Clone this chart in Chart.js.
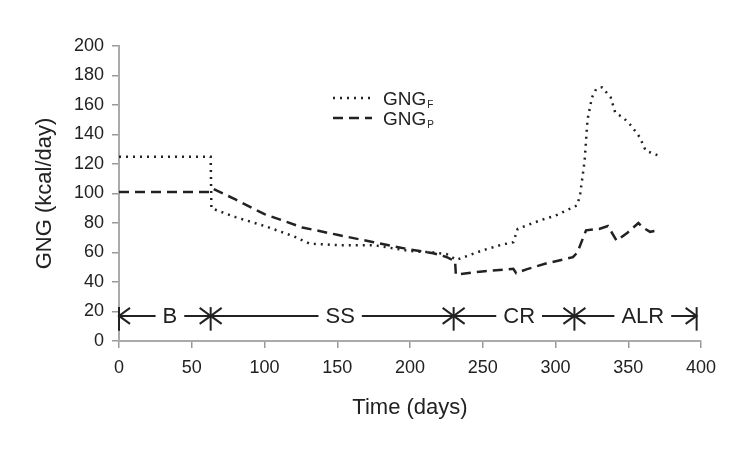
<!DOCTYPE html>
<html>
<head>
<meta charset="utf-8">
<script src="https://cdn.jsdelivr.net/npm/chart.js@4/dist/chart.umd.min.js"></script>
<style>
html,body{margin:0;padding:0;background:#fff;}
#wrap{width:750px;height:461px;position:relative;}
</style>
</head>
<body>
<div id="wrap"><canvas id="c" width="750" height="461"></canvas></div>
<script>
// ---- data ----
const gngF_days = [0,63,63.5,80,100,120,131,150,175,200,216,225,232,250,262,271,274,290,300,315,317,320,322,325,328,332,338,341,347,352,358,362,370];
const gngF_vals = [125,125,90,84,78,71,66,65,65,61,60,59,55,61.5,65,67,76,82,85,92,100,122,150,165,171,172,165,155,151,146,138,129,126];
const gngP_days = [0,63,65,80,100,126,150,175,200,216,225,231,231.5,248,271,273,280,294,312,315,321,330,336,342,349,357,360,365,370];
const gngP_vals = [101,101,103,96,86,77,72,67,62,59.5,57,54,45,47,49,46,48.6,52.7,56.8,60,75,76,78,68,73,80,77,74,75];
const phaseBounds = [0,63,230,313,397];
const phaseNames = ['B','SS','CR','ALR'];
const phaseLabelDays = [35,152,275,360];
const phaseArrowLevel = 17;
const phaseBarRange = [7,23];
const xTicks = [0,50,100,150,200,250,300,350,400];
const yTicks = [0,20,40,60,80,100,120,140,160,180,200];

const FONT = "'Liberation Sans', Arial, sans-serif";
const INK = '#222';

function pts(d, v){ return d.map((x,i)=>({x:x,y:v[i]})); }

const overlay = {
  id:'overlay',
  afterDatasetsDraw(chart){
    const ctx = chart.ctx, xs = chart.scales.x, ys = chart.scales.y;
    ctx.save();
    // phases
    ctx.strokeStyle = INK; ctx.fillStyle = INK; ctx.lineWidth = 2; ctx.lineCap='butt';
    ctx.font = '22px ' + FONT; ctx.textAlign='center'; ctx.textBaseline='middle';
    const ay = ys.getPixelForValue(phaseArrowLevel);
    const b0 = ys.getPixelForValue(phaseBarRange[0]), b1 = ys.getPixelForValue(phaseBarRange[1]);
    phaseBounds.forEach(d=>{
      const px = xs.getPixelForValue(d);
      ctx.beginPath(); ctx.moveTo(px,b0); ctx.lineTo(px,b1); ctx.stroke();
    });
    function head(x, dir){
      ctx.beginPath();
      ctx.moveTo(x - dir*11, ay - 8); ctx.lineTo(x, ay); ctx.lineTo(x - dir*11, ay + 8);
      ctx.stroke();
    }
    for(let k=0;k<phaseNames.length;k++){
      const xa = xs.getPixelForValue(phaseBounds[k]);
      const xb = xs.getPixelForValue(phaseBounds[k+1]);
      const lx = xs.getPixelForValue(phaseLabelDays[k]);
      const w = ctx.measureText(phaseNames[k]).width;
      const gap = 7;
      ctx.beginPath();
      ctx.moveTo(xa, ay); ctx.lineTo(lx - w/2 - gap, ay);
      ctx.moveTo(lx + w/2 + gap, ay); ctx.lineTo(xb, ay);
      ctx.stroke();
      head(xa, -1); head(xb, 1);
      ctx.fillText(phaseNames[k], lx, ay + 1);
    }
    // legend
    const ds = chart.data.datasets;
    const rows = [{y:98, ds:ds[0], sub:'F'}, {y:118, ds:ds[1], sub:'P'}];
    rows.forEach(r=>{
      ctx.save();
      ctx.strokeStyle = r.ds.borderColor; ctx.lineWidth = r.ds.borderWidth;
      ctx.setLineDash(r.ds.borderDash);
      ctx.beginPath(); ctx.moveTo(333, r.y); ctx.lineTo(372, r.y); ctx.stroke();
      ctx.restore();
      ctx.fillStyle = INK; ctx.textAlign='left'; ctx.textBaseline='alphabetic';
      ctx.font = '19px ' + FONT;
      ctx.fillText('GNG', 383, r.y + 7);
      const gw = ctx.measureText('GNG').width;
      ctx.font = '10px ' + FONT;
      ctx.fillText(r.sub, 383 + gw + 1, r.y + 10);
    });
    ctx.restore();
  }
};

new Chart(document.getElementById('c'), {
  type:'line',
  data:{
    datasets:[
      {label:'GNG_F', data:pts(gngF_days,gngF_vals), borderColor:INK, borderWidth:2.5, borderDash:[2,5], pointRadius:0, fill:false, tension:0},
      {label:'GNG_P', data:pts(gngP_days,gngP_vals), borderColor:INK, borderWidth:2.5, borderDash:[10,6], pointRadius:0, fill:false, tension:0}
    ]
  },
  options:{
    responsive:false, animation:false, devicePixelRatio:1,
    layout:{padding:{left:0,top:46,right:49,bottom:0}},
    plugins:{legend:{display:false}, tooltip:{enabled:false}},
    scales:{
      x:{
        type:'linear', min:0, max:400,
        afterBuildTicks(s){ s.ticks = xTicks.map(v=>({value:v})); },
        afterFit(s){ s.height = 120; s.paddingLeft = 0; s.paddingRight = 0; },
        grid:{display:true, drawOnChartArea:false, drawTicks:true, tickLength:7, color:'#999', lineWidth:1.5},
        border:{display:true, color:'#aaa', width:2},
        ticks:{color:INK, font:{family:FONT, size:18}, padding:9, maxRotation:0},
        title:{display:true, text:'Time (days)', color:INK, font:{family:FONT, size:22}, padding:{top:0,bottom:40}}
      },
      y:{
        type:'linear', min:0, max:200,
        afterBuildTicks(s){ s.ticks = yTicks.map(v=>({value:v})); },
        afterFit(s){ s.width = 119; s.paddingTop = 0; s.paddingBottom = 0; },
        grid:{display:true, drawOnChartArea:false, drawTicks:true, tickLength:7, color:'#999', lineWidth:1.5},
        border:{display:true, color:'#aaa', width:2},
        ticks:{color:INK, font:{family:FONT, size:18}, padding:8},
        title:{display:true, text:'GNG (kcal/day)', color:INK, font:{family:FONT, size:22}, padding:{top:32,bottom:0}}
      }
    }
  },
  plugins:[overlay]
});
</script>
</body>
</html>
